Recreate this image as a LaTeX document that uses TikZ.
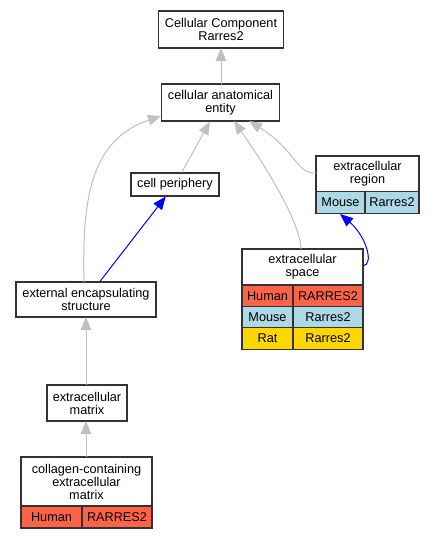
\documentclass[tikz,border=0pt]{standalone}
\usepackage{fontspec}
\setmainfont{Liberation Sans}
\usetikzlibrary{arrows.meta}
\definecolor{hum}{HTML}{FF6347}
\definecolor{mou}{HTML}{ADD8E6}
\definecolor{rat}{HTML}{FFD700}
\definecolor{edgegray}{HTML}{C0C0C0}
\begin{document}
\begin{tikzpicture}[x=1pt,y=-1pt,
  box/.style={draw=black!80, line width=1.1pt, fill=white, inner sep=0pt, align=center, font=\fontsize{12.7}{13}\selectfont},
  cell/.style={box, minimum height=21.3},
  isa/.style={draw=edgegray, line width=1pt, -{Triangle[length=13pt,width=10.5pt]}},
  posedge/.style={draw=blue, line width=1pt, -{Triangle[length=13pt,width=10.5pt]}}]
\useasboundingbox (0,0) rectangle (433,539);
\fill[white] (0,0) rectangle (433,539);

% nodes
\node[box, minimum width=125, minimum height=37] (cc) at (221,29.5) {Cellular Component\\Rarres2};
\node[box, minimum width=118, minimum height=37] (cae) at (220.5,102.5) {cellular anatomical\\entity};
\node[box, minimum width=88, minimum height=23] (cp) at (175,184.5) {cell periphery};

\node[box, minimum width=103, minimum height=36] (er) at (367.5,174) {extracellular\\region};
\node[cell, fill=mou, minimum width=49] (erm) at (340.5,202.5) {Mouse};
\node[cell, fill=mou, minimum width=54] (erm2) at (392,202.5) {Rarres2};

\node[box, minimum width=121, minimum height=36] (es) at (302.5,267) {extracellular\\space};
\node[cell, fill=hum, minimum width=51] (esh) at (267.5,295.8) {Human};
\node[cell, fill=hum, minimum width=70] (esh2) at (328,295.8) {RARRES2};
\node[cell, fill=mou, minimum width=51] (esm) at (267.5,317.1) {Mouse};
\node[cell, fill=mou, minimum width=70] (esm2) at (328,317.1) {Rarres2};
\node[cell, fill=rat, minimum width=51] (esr) at (267.5,338.4) {Rat};
\node[cell, fill=rat, minimum width=70] (esr2) at (328,338.4) {Rarres2};

\node[box, minimum width=140, minimum height=35] (ees) at (86,299.5) {external encapsulating\\structure};
\node[box, minimum width=80, minimum height=36] (em) at (87,403) {extracellular\\matrix};
\node[box, minimum width=131, minimum height=49] (cem) at (86.5,481.5) {collagen-containing\\extracellular\\matrix};
\node[cell, fill=hum, minimum width=61, minimum height=22] (cemh) at (51.5,517) {Human};
\node[cell, fill=hum, minimum width=70, minimum height=22] (cemh2) at (117,517) {RARRES2};

% connector end points
\coordinate (caeT) at (221,84);
\coordinate (ccB) at (221,48);
\coordinate (caeL) at (161,116);
\coordinate (caeS) at (234,121);
\coordinate (caeR) at (249,121);
\coordinate (eesT) at (84,282);
\coordinate (esT) at (301,249);
\coordinate (erL) at (316,173);
\coordinate (esR) at (363,266);
\coordinate (erB) at (340,214);
\coordinate (emT) at (86,385);
\coordinate (eesB) at (86,317);
\coordinate (cemT) at (86,457);
\coordinate (emB) at (86,421);

\draw[isa] (caeT) -- (ccB);
\draw[isa] (cp) -- (cae);
\draw[isa] (eesT) .. controls (82,200) and (90,140) .. (caeL);
\draw[isa] (esT) .. controls (300,225) and (275,180) .. (caeS);
\draw[isa] (erL) .. controls (296,174) and (296,150) .. (caeR);
\draw[isa] (emT) -- (eesB);
\draw[isa] (cemT) -- (emB);
\draw[posedge] (ees) -- (cp);
\draw[posedge] (esR) .. controls (375,264) and (365,235) .. (erB);
\end{tikzpicture}
\end{document}
